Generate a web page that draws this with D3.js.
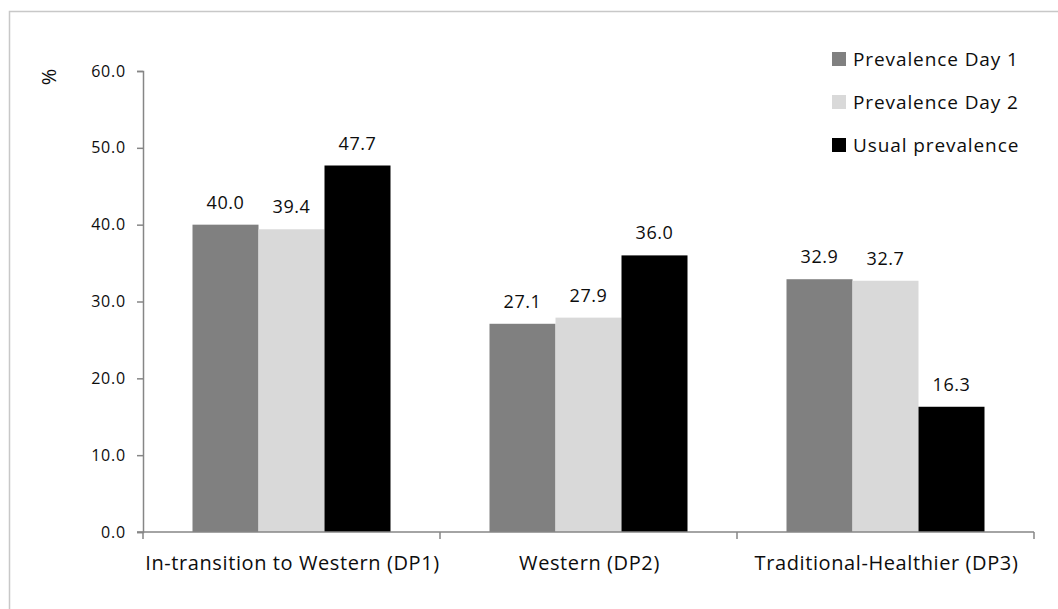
<!DOCTYPE html>
<html>
<head>
<meta charset="utf-8">
<script src="https://cdn.jsdelivr.net/npm/d3@7"></script>
<style>
  body { margin: 0; background: #fff; }
  text { font-family: "Open Sans", "Liberation Sans", sans-serif; fill: #0d0d0d; }
</style>
</head>
<body>
<div id="chart"></div>
<script>
const categories = ["In-transition to Western (DP1)", "Western (DP2)", "Traditional-Healthier (DP3)"];
const seriesNames = ["Prevalence Day 1", "Prevalence Day 2", "Usual prevalence"];
const day1 = [40.0, 27.1, 32.9];
const day2 = [39.4, 27.9, 32.7];
const usual = [47.7, 36.0, 16.3];
const yTicks = [0, 10, 20, 30, 40, 50, 60];
const colors = ["#808080", "#d9d9d9", "#000000"];

const width = 1058, height = 609;
const margin = { top: 71, right: 24, bottom: 77, left: 143 };

const svg = d3.select("#chart")
  .append("svg")
  .attr("width", width)
  .attr("height", height);

// outer frame
svg.append("rect")
  .attr("x", 9.5).attr("y", 11.5)
  .attr("width", 1060).attr("height", 620)
  .attr("fill", "none")
  .attr("stroke", "#c8c8c8")
  .attr("stroke-width", 1.5);

const x0 = d3.scaleBand()
  .domain(categories)
  .range([margin.left, width - margin.right]);

const x1 = d3.scaleBand()
  .domain(seriesNames)
  .range([0, x0.bandwidth()])
  .paddingOuter(0.75)
  .paddingInner(0);

const y = d3.scaleLinear()
  .domain([0, 60])
  .range([height - margin.bottom, margin.top]);

const rows = categories.map((c, i) => ({
  cat: c,
  vals: [day1[i], day2[i], usual[i]].map((v, j) => ({ key: seriesNames[j], v: v, j: j }))
}));

// bars
const groups = svg.append("g")
  .selectAll("g")
  .data(rows)
  .enter()
  .append("g")
  .attr("transform", d => "translate(" + x0(d.cat) + ",0)");

groups.selectAll("rect")
  .data(d => d.vals)
  .enter()
  .append("rect")
  .attr("x", d => x1(d.key))
  .attr("y", d => y(d.v))
  .attr("width", x1.bandwidth())
  .attr("height", d => y(0) - y(d.v))
  .attr("fill", d => colors[d.j]);

groups.selectAll("text")
  .data(d => d.vals)
  .enter()
  .append("text")
  .attr("x", d => x1(d.key) + x1.bandwidth() / 2)
  .attr("y", d => y(d.v) - 16)
  .attr("text-anchor", "middle")
  .style("font-size", "18px")
  .style("letter-spacing", "0.6px")
  .text(d => d.v.toFixed(1));

// y axis
const yAxis = svg.append("g")
  .attr("transform", "translate(" + margin.left + ",0)")
  .call(d3.axisLeft(y).tickValues(yTicks).tickFormat(d3.format(".1f")).tickSize(6).tickPadding(11));
yAxis.select(".domain").attr("stroke", "#868686").attr("stroke-width", 1.5);
yAxis.selectAll(".tick line").attr("stroke", "#868686").attr("stroke-width", 1.5);
yAxis.selectAll(".tick text")
  .style("font-size", "16px")
  .style("letter-spacing", "0.8px")
  .attr("fill", "#0d0d0d");

// x axis
const xAxis = svg.append("g")
  .attr("transform", "translate(0," + y(0) + ")");
xAxis.append("line")
  .attr("x1", margin.left - 6).attr("x2", width - margin.right)
  .attr("y1", 0).attr("y2", 0)
  .attr("stroke", "#868686").attr("stroke-width", 1.5);
const bounds = categories.map(c => x0(c)).concat([x0(categories[categories.length - 1]) + x0.bandwidth()]);
xAxis.selectAll(".bt")
  .data(bounds)
  .enter()
  .append("line")
  .attr("x1", d => d).attr("x2", d => d)
  .attr("y1", 0).attr("y2", 7)
  .attr("stroke", "#868686").attr("stroke-width", 1.5);
xAxis.selectAll(".cl")
  .data(categories)
  .enter()
  .append("text")
  .attr("x", d => x0(d) + x0.bandwidth() / 2 + 1)
  .attr("y", 38)
  .attr("text-anchor", "middle")
  .style("font-size", "20px")
  .style("letter-spacing", "0.6px")
  .text(d => d);

// % label
svg.append("text")
  .attr("transform", "translate(56,77) rotate(-90)")
  .attr("text-anchor", "middle")
  .style("font-size", "20px")
  .text("%");

// legend
const legend = svg.append("g")
  .selectAll("g")
  .data(seriesNames)
  .enter()
  .append("g")
  .attr("transform", (d, i) => "translate(832," + (52 + i * 43) + ")");
legend.append("rect")
  .attr("width", 14).attr("height", 14)
  .attr("fill", (d, i) => colors[i]);
legend.append("text")
  .attr("x", 21).attr("y", 14)
  .style("font-size", "19px")
  .style("letter-spacing", "0.9px")
  .text(d => d);
</script>
</body>
</html>
